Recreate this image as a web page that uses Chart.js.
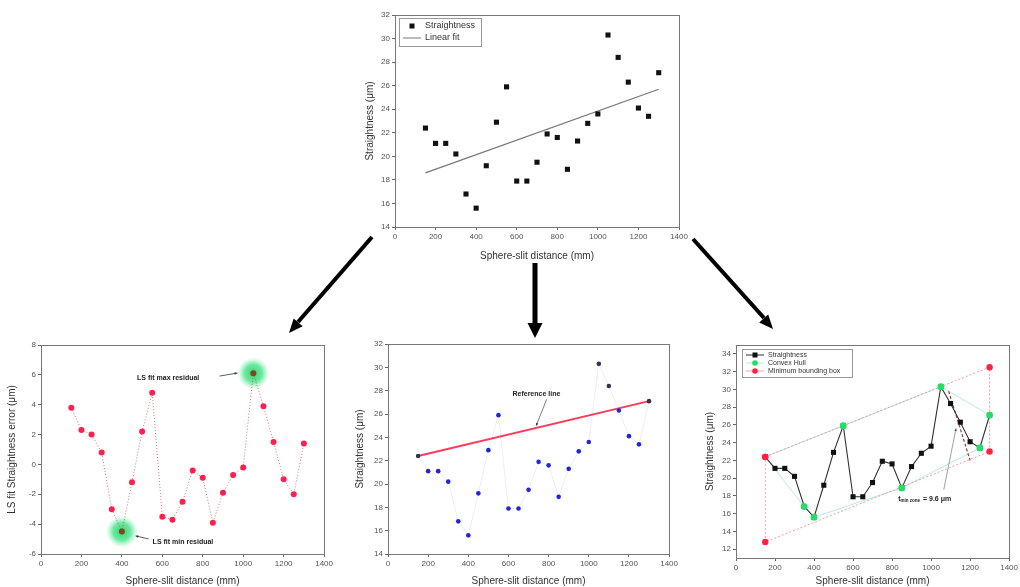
<!DOCTYPE html>
<html><head><meta charset="utf-8">
<script src="https://cdn.jsdelivr.net/npm/chart.js@4/dist/chart.umd.min.js"></script>
<style>
body{margin:0;width:1020px;height:587px;background:#fff;position:relative;overflow:hidden;font-family:"Liberation Sans",Arial,sans-serif}
canvas{position:absolute}
svg{position:absolute;left:0;top:0}
</style></head><body>
<canvas id="c1" width="330" height="257" style="left:360px;top:5px"></canvas>
<canvas id="c2" width="335" height="252" style="left:0px;top:335px"></canvas>
<canvas id="c3" width="330" height="253" style="left:350px;top:334px"></canvas>
<canvas id="c4" width="320" height="252" style="left:700px;top:335px"></canvas>
<svg width="1020" height="587">
  <line x1="372" y1="237" x2="298" y2="322" stroke="#000" stroke-width="4"/>
  <polygon points="289,333 302.7,326.3 293.7,318.5" fill="#000"/>
  <line x1="535" y1="263" x2="535" y2="325" stroke="#000" stroke-width="5"/>
  <polygon points="535,338 527.5,323 542.5,323" fill="#000"/>
  <line x1="693" y1="239" x2="764" y2="318" stroke="#000" stroke-width="4"/>
  <polygon points="773,329 759.2,322.5 768.2,314.5" fill="#000"/>
</svg>
<script>
// ---------- data ----------
const xDist = [150,200,250,300,350,400,450,500,550,600,650,700,750,800,850,900,950,1000,1050,1100,1150,1200,1250,1300];
const straightness = [22.4,21.1,21.1,20.2,16.8,15.6,19.2,22.9,25.9,17.9,17.9,19.5,21.9,21.6,18.9,21.3,22.8,23.6,30.3,28.4,26.3,24.1,23.4,27.1];
const residuals = [3.8,2.3,2.0,0.8,-3.0,-4.5,-1.2,2.2,4.8,-3.5,-3.7,-2.5,-0.4,-0.9,-3.9,-1.9,-0.7,-0.2,6.1,3.9,1.5,-1.0,-2.0,1.4];
const fitX = [150,1300];
const fitY = [18.6,25.7];
const refX = [150,1300];
const refY = [22.4,27.1];
const hullX = [350,400,550,850,1050,1250,1300];
const hullY = [16.8,15.6,25.9,18.9,30.3,23.4,27.1];
const hullUpperX = [150,550,1050,1300];
const hullUpperY = [22.4,25.9,30.3,27.1];
const hullLowerX = [150,350,400,850,1250,1300];
const hullLowerY = [22.4,16.8,15.6,18.9,23.4,27.1];
const boxX = [150,1300,1300,150,150];
const boxY = [22.4,32.5,23.0,12.8,22.4];
const zoneX = [1090,1200];
const zoneY = [29.8,22.0];
const xTicks = [0,200,400,600,800,1000,1200,1400];
const yTicksTop = [14,16,18,20,22,24,26,28,30,32];
const yTicksRes = [-6,-4,-2,0,2,4,6,8];
const yTicksMid = [14,16,18,20,22,24,26,28,30,32];
const yTicksRight = [12,14,16,18,20,22,24,26,28,30,32,34];
const xTitle = 'Sphere-slit distance (mm)';

const pts = (xs, ys) => xs.map((x,i)=>({x:x, y:ys[i]}));
const FONT = '"Liberation Sans", Arial, sans-serif';
Chart.defaults.font.family = FONT;
Chart.defaults.animation = false;

function xScale(h){
  return {type:'linear', min:0, max:1400,
    afterBuildTicks:s=>{s.ticks = xTicks.map(v=>({value:v}));},
    afterFit:s=>{s.height=h;},
    ticks:{font:{size:8}, color:'#555', padding:2, maxRotation:0, autoSkip:false, callback:v=>String(v)},
    grid:{drawOnChartArea:false, tickLength:3, color:'#666'},
    border:{color:'#666'},
    title:{display:true, text:xTitle, font:{size:10}, color:'#333', padding:{top:0,bottom:0}}};
}
function yScale(w, min, max, ticks, title, tpad){
  return {type:'linear', min:min, max:max,
    afterBuildTicks:s=>{s.ticks = ticks.map(v=>({value:v}));},
    afterFit:s=>{s.width=w;},
    ticks:{font:{size:8}, color:'#555', padding:2, autoSkip:false, callback:v=>String(v)},
    grid:{drawOnChartArea:false, tickLength:3, color:'#666'},
    border:{color:'#666'},
    title:{display:true, text:title, font:{size:10}, color:'#333', padding:{top:tpad,bottom:0}}};
}
const frame = {id:'frame', afterDraw(c){
  const a=c.chartArea, ctx=c.ctx; ctx.save(); ctx.strokeStyle='#777'; ctx.lineWidth=1;
  ctx.strokeRect(Math.round(a.left)+0.5, Math.round(a.top)+0.5, Math.round(a.right-a.left), Math.round(a.bottom-a.top)); ctx.restore();
}};
function px(c,x,y){return [c.scales.x.getPixelForValue(x), c.scales.y.getPixelForValue(y)];}
function arrow(ctx, x1,y1,x2,y2, head){
  ctx.beginPath(); ctx.moveTo(x1,y1); ctx.lineTo(x2,y2); ctx.stroke();
  const a=Math.atan2(y2-y1,x2-x1);
  ctx.beginPath(); ctx.moveTo(x2,y2);
  ctx.lineTo(x2-head*Math.cos(a-0.45), y2-head*Math.sin(a-0.45));
  ctx.lineTo(x2-head*Math.cos(a+0.45), y2-head*Math.sin(a+0.45));
  ctx.closePath(); ctx.fill();
}
function legendBox(ctx, x, y, w, rowH, items, fs){
  ctx.save();
  ctx.fillStyle='#fff'; ctx.fillRect(x,y,w,rowH*items.length+4);
  ctx.strokeStyle='#999'; ctx.lineWidth=1; ctx.strokeRect(x+0.5,y+0.5,w,rowH*items.length+4);
  ctx.font=fs+'px '+FONT; ctx.textBaseline='middle';
  items.forEach((it,i)=>{
    const cy=y+2+rowH*(i+0.5);
    if(it.line){ctx.strokeStyle=it.line; ctx.lineWidth=1; ctx.beginPath(); ctx.moveTo(x+4,cy); ctx.lineTo(x+22,cy); ctx.stroke();}
    if(it.sq){ctx.fillStyle=it.sq; ctx.fillRect(x+10.5,cy-2.5,5,5);}
    if(it.dot){ctx.fillStyle=it.dot; ctx.beginPath(); ctx.arc(x+13,cy,2.8,0,Math.PI*2); ctx.fill();}
    ctx.fillStyle='#333'; ctx.fillText(it.t, x+26, cy);
  });
  ctx.restore();
}

// ---------- chart 1 (top) ----------
new Chart(document.getElementById('c1'), {
  type:'scatter',
  data:{datasets:[
    {data:pts(xDist,straightness), pointStyle:'rect', pointRadius:3.6, backgroundColor:'#111', borderColor:'#111', borderWidth:0, order:1},
    {data:pts(fitX,fitY), showLine:true, pointRadius:0, borderColor:'#777', borderWidth:1.2, order:2}
  ]},
  options:{responsive:false, layout:{padding:{top:10,right:11,bottom:0,left:0}},
    plugins:{legend:{display:false}, tooltip:{enabled:false}},
    scales:{x:xScale(35), y:yScale(35,14,32,yTicksTop,'Straightness (μm)',4)}},
  plugins:[frame,{id:'lg1', afterDraw(c){
    const a=c.chartArea;
    legendBox(c.ctx, a.left+4, a.top+3, 82, 12, [{sq:'#111',t:'Straightness'},{line:'#777',t:'Linear fit'}], 9);
  }}]
});

// ---------- chart 2 (bottom-left residuals) ----------
const glowX = [400,1050];
const glowY = [-4.5,6.1];
new Chart(document.getElementById('c2'), {
  type:'scatter',
  data:{datasets:[
    {data:pts(xDist,residuals), showLine:true, borderColor:'rgba(190,70,90,0.75)', borderDash:[1,2], borderWidth:1,
     pointRadius:3, pointBorderWidth:0,
     pointBackgroundColor:ctx=>glowX.includes(xDist[ctx.dataIndex])?'#7a4a1a':'#ff1f4e'}
  ]},
  options:{responsive:false, layout:{padding:{top:10,right:7,bottom:0,left:0}},
    plugins:{legend:{display:false}, tooltip:{enabled:false}},
    scales:{x:xScale(33), y:yScale(41,-6,8,yTicksRes,'LS fit Straightness error (μm)',6)}},
  plugins:[frame,{id:'glow', beforeDatasetsDraw(c){
    const ctx=c.ctx; ctx.save();
    glowX.forEach((gx,i)=>{
      const [x,y]=px(c,gx,glowY[i]);
      const g=ctx.createRadialGradient(x,y,0,x,y,16);
      g.addColorStop(0,'rgba(40,210,110,0.95)'); g.addColorStop(0.55,'rgba(60,225,130,0.75)'); g.addColorStop(1,'rgba(120,240,170,0)');
      ctx.fillStyle=g; ctx.beginPath(); ctx.arc(x,y,16,0,Math.PI*2); ctx.fill();
    });
    ctx.restore();
  }, afterDraw(c){
    const ctx=c.ctx; ctx.save();
    ctx.font='bold 7px '+FONT; ctx.fillStyle='#222'; ctx.textAlign='center'; ctx.textBaseline='middle';
    let p=px(c,629,5.79); ctx.fillText('LS fit max residual',p[0],p[1]);
    p=px(c,702,-5.19); ctx.fillText('LS fit min residual',p[0],p[1]);
    ctx.strokeStyle='#333'; ctx.fillStyle='#333'; ctx.lineWidth=0.8;
    let a=px(c,883,5.92), b=px(c,971,6.12); arrow(ctx,a[0],a[1],b[0],b[1],3);
    a=px(c,532,-4.99); b=px(c,468,-4.79); arrow(ctx,a[0],a[1],b[0],b[1],3);
    ctx.restore();
  }}]
});

// ---------- chart 3 (bottom-middle reference line) ----------
const darkMid = [150,1050,1100,1300];
new Chart(document.getElementById('c3'), {
  type:'scatter',
  data:{datasets:[
    {data:pts(refX,refY), showLine:true, pointRadius:0, borderColor:'#ff3a5c', borderWidth:1.8, order:1},
    {data:pts(xDist,straightness), showLine:true, borderColor:'rgba(0,0,0,0.07)', borderWidth:1,
     pointRadius:2.3, pointBorderWidth:0,
     pointBackgroundColor:ctx=>darkMid.includes(xDist[ctx.dataIndex])?'#3a3050':'#2424d8', order:0}
  ]},
  options:{responsive:false, layout:{padding:{top:10,right:8,bottom:0,left:0}},
    plugins:{legend:{display:false}, tooltip:{enabled:false}},
    scales:{x:xScale(33), y:yScale(38,14,32,yTicksMid,'Straightness (μm)',4)}},
  plugins:[frame,{id:'ann3', afterDraw(c){
    const ctx=c.ctx; ctx.save();
    ctx.font='bold 7px '+FONT; ctx.fillStyle='#222'; ctx.textAlign='center'; ctx.textBaseline='middle';
    let p=px(c,739,27.7); ctx.fillText('Reference line',p[0],p[1]);
    ctx.strokeStyle='#444'; ctx.fillStyle='#333'; ctx.lineWidth=0.7;
    let a=px(c,790,27.25), b=px(c,738,25.0); arrow(ctx,a[0],a[1],b[0],b[1],3);
    ctx.restore();
  }}]
});

// ---------- chart 4 (bottom-right convex hull / min zone) ----------
new Chart(document.getElementById('c4'), {
  type:'scatter',
  data:{datasets:[
    {data:pts(boxX,boxY), showLine:true, borderColor:'rgba(240,120,135,0.75)', borderDash:[2,2], borderWidth:1,
     pointRadius:3.2, pointBorderWidth:0, pointBackgroundColor:'#ff2244', order:1},
    {data:pts(hullUpperX,hullUpperY), showLine:true, borderColor:'rgba(120,220,200,0.55)', borderWidth:1, pointRadius:0, order:4},
    {data:pts(hullLowerX,hullLowerY), showLine:true, borderColor:'rgba(120,220,200,0.55)', borderWidth:1, pointRadius:0, order:4},
    {data:pts(zoneX,zoneY), showLine:true, borderColor:'#a03a3a', borderDash:[3,2], borderWidth:1.2, pointRadius:0, order:3},
    {data:pts(xDist,straightness), showLine:true, borderColor:'#333', borderWidth:1.1,
     pointStyle:'rect', pointRadius:3.6, pointBorderWidth:0, pointBackgroundColor:'#111', order:2},
    {data:pts(hullX,hullY), pointRadius:3.4, pointBorderWidth:0, pointBackgroundColor:'#22dd66', order:0}
  ]},
  options:{responsive:false, layout:{padding:{top:10,right:4,bottom:0,left:0}},
    plugins:{legend:{display:false}, tooltip:{enabled:false}},
    scales:{x:xScale(29), y:yScale(36,11,35,yTicksRight,'Straightness (μm)',4)}},
  plugins:[frame,{id:'ann4', afterDraw(c){
    const ctx=c.ctx, a0=c.chartArea; ctx.save();
    legendBox(ctx, a0.left+6, a0.top+4, 110, 8, [
      {line:'#333', sq:'#111', t:'Straightness'},
      {line:'rgba(120,220,200,0.6)', dot:'#22dd66', t:'Convex Hull'},
      {line:'rgba(240,120,135,0.7)', dot:'#ff2244', t:'Minimum bounding box'}], 7);
    let p=px(c,975,17.65);
    ctx.fillStyle='#222'; ctx.textBaseline='middle';
    ctx.font='bold 7px '+FONT;
    let x=p[0]-28;
    ctx.fillText('t',x,p[1]); x+=ctx.measureText('t').width;
    ctx.font='bold 4.5px '+FONT; ctx.fillText('min zone',x,p[1]+2); x+=ctx.measureText('min zone').width+1;
    ctx.font='bold 7px '+FONT; ctx.fillText(' = 9.6 μm',x,p[1]);
    ctx.strokeStyle='#777'; ctx.fillStyle='#555'; ctx.lineWidth=0.7;
    let a=px(c,1065,18.7), b=px(c,1128,25.6); arrow(ctx,a[0],a[1],b[0],b[1],3);
    ctx.restore();
  }}]
});
</script>
</body></html>
